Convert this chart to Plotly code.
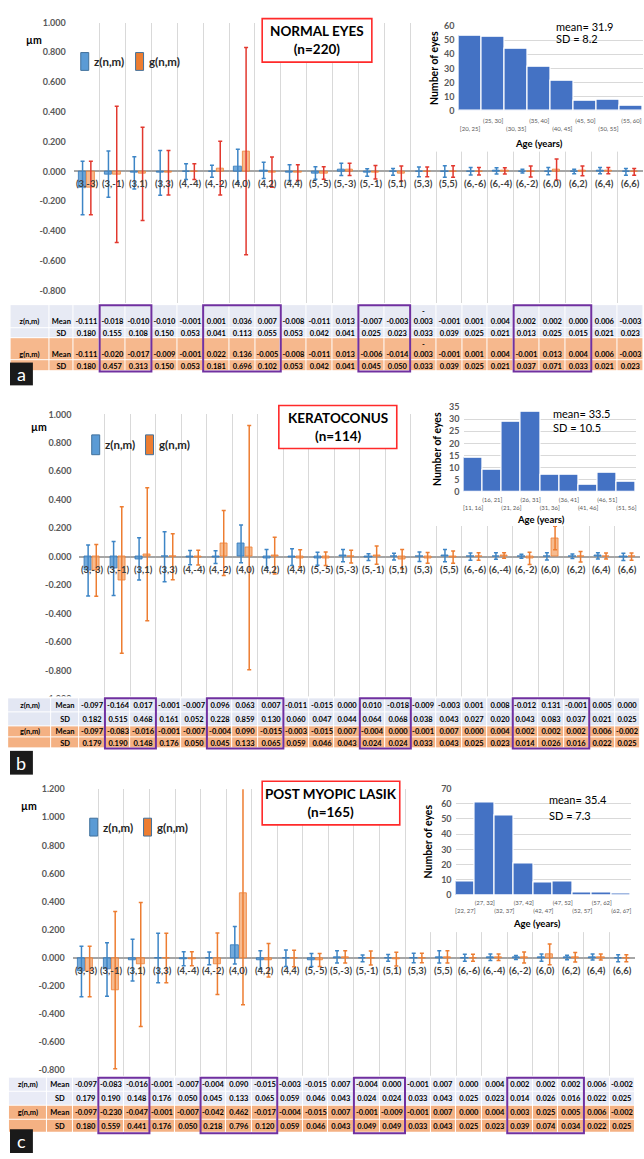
import plotly.graph_objects as go

W, H = 644, 1159
FONT = "Lato, 'Open Sans', sans-serif"


def fx(x):
    """pixel column -> paper x"""
    return x / W


def fy(y):
    """pixel row -> paper y"""
    return 1 - y / H


# ---------------------------------------------------------------- data
categories = ["(3,-3)", "(3,-1)", "(3,1)", "(3,3)", "(4,-4)", "(4,-2)", "(4,0)", "(4,2)",
              "(4,4)", "(5,-5)", "(5,-3)", "(5,-1)", "(5,1)", "(5,3)", "(5,5)", "(6,-6)",
              "(6,-4)", "(6,-2)", "(6,0)", "(6,2)", "(6,4)", "(6,6)"]

# Normal eyes (n=220)
normal_z_mean = [-0.111, -0.018, -0.010, -0.010, -0.001, 0.001, 0.036, 0.007, -0.008, -0.011, 0.013,
                 -0.007, -0.003, -0.003, -0.001, 0.001, 0.004, 0.002, 0.002, 0.000, 0.006, -0.003]
normal_z_sd = [0.180, 0.155, 0.108, 0.150, 0.053, 0.041, 0.113, 0.055, 0.053, 0.042, 0.041,
               0.025, 0.023, 0.033, 0.039, 0.025, 0.021, 0.013, 0.025, 0.015, 0.021, 0.023]
normal_g_mean = [-0.111, -0.020, -0.017, -0.009, -0.001, 0.022, 0.136, -0.005, -0.008, -0.011, 0.013,
                 -0.006, -0.014, -0.003, -0.001, 0.001, 0.004, -0.001, 0.013, 0.004, 0.006, -0.003]
normal_g_sd = [0.180, 0.457, 0.313, 0.150, 0.053, 0.181, 0.696, 0.102, 0.053, 0.042, 0.041,
               0.045, 0.050, 0.033, 0.039, 0.025, 0.021, 0.037, 0.071, 0.033, 0.021, 0.023]

# Keratoconus (n=114)
kc_z_mean = [-0.097, -0.164, 0.017, -0.001, -0.007, 0.096, 0.063, 0.007, -0.011, -0.015, 0.000,
             0.010, -0.018, -0.009, -0.003, 0.001, 0.008, -0.012, 0.131, -0.001, 0.005, 0.000]
kc_z_sd = [0.182, 0.515, 0.468, 0.161, 0.052, 0.228, 0.859, 0.130, 0.060, 0.047, 0.044,
           0.064, 0.068, 0.038, 0.043, 0.027, 0.020, 0.043, 0.083, 0.037, 0.021, 0.025]
kc_g_mean = [-0.097, -0.083, -0.016, -0.001, -0.007, -0.004, 0.090, -0.015, -0.003, -0.015, 0.007,
             -0.004, 0.000, -0.001, 0.007, 0.000, 0.004, 0.002, 0.002, 0.002, 0.006, -0.002]
kc_g_sd = [0.179, 0.190, 0.148, 0.176, 0.050, 0.045, 0.133, 0.065, 0.059, 0.046, 0.043,
           0.024, 0.024, 0.033, 0.043, 0.025, 0.023, 0.014, 0.026, 0.016, 0.022, 0.025]

# Post myopic LASIK (n=165)
lasik_z_mean = [-0.097, -0.083, -0.016, -0.001, -0.007, -0.004, 0.090, -0.015, -0.003, -0.015, 0.007,
                -0.004, 0.000, -0.001, 0.007, 0.000, 0.004, 0.002, 0.002, 0.002, 0.006, -0.002]
lasik_z_sd = [0.179, 0.190, 0.148, 0.176, 0.050, 0.045, 0.133, 0.065, 0.059, 0.046, 0.043,
              0.024, 0.024, 0.033, 0.043, 0.025, 0.023, 0.014, 0.026, 0.016, 0.022, 0.025]
lasik_g_mean = [-0.097, -0.230, -0.047, -0.001, -0.007, -0.042, 0.462, -0.017, -0.004, -0.015, 0.007,
                -0.001, -0.009, -0.001, 0.007, 0.000, 0.004, 0.003, 0.025, 0.005, 0.006, -0.002]
lasik_g_sd = [0.180, 0.559, 0.441, 0.176, 0.050, 0.218, 0.796, 0.120, 0.059, 0.046, 0.043,
              0.049, 0.049, 0.033, 0.043, 0.025, 0.023, 0.039, 0.074, 0.034, 0.022, 0.025]

# Age distributions
normal_age_bins = ["[20, 25]", "(25, 30]", "(30, 35]", "(35, 40]", "(40, 45]", "(45, 50]", "(50, 55]", "(55, 60]"]
normal_age_counts = [53, 52, 44, 31, 21, 7, 8, 4]
kc_age_bins = ["[11, 16]", "(16, 21]", "(21, 26]", "(26, 31]", "(31, 36]", "(36, 41]", "(41, 46]", "(46, 51]", "(51, 56]"]
kc_age_counts = [14, 9, 29, 33, 7, 7, 3, 8, 4]
lasik_age_bins = ["[22, 27]", "(27, 32]", "(32, 37]", "(37, 42]", "(42, 47]", "(47, 52]", "(52, 57]", "(57, 62]", "(62, 67]"]
lasik_age_counts = [9, 61, 52, 21, 8, 9, 2, 2, 1]

# Column groups boxed in the tables (indices into categories)
boxed_groups = [(1, 2), (5, 7), (11, 12), (17, 19)]

# ---------------------------------------------------------------- panel geometry
panels = [
    dict(letter="a", title=("NORMAL EYES", "(n=220)"), age_stats=("mean= 31.9", "SD = 8.2"),
         z_mean=normal_z_mean, z_sd=normal_z_sd, g_mean=normal_g_mean, g_sd=normal_g_sd,
         blue=(normal_z_mean, normal_z_sd), orange=(normal_g_mean, normal_g_sd),
         g_err="#e2382e", bins=normal_age_bins, counts=normal_age_counts, hist_max=60, hist_dtick=10,
         x0=73, x1=644, ytop=16.7, ybot=300, yrange=[-0.885, 1.0], yticks=[k / 5 for k in range(-4, 6)],
         um=(33, 34), leg=(80, 47, 65, 135), tbox=(262, 12.7, 372, 56.7),
         hist=(459, 644, 20, 106), cover=(418, 644, 0, 147), eyes_x=435, age_y=139, stats=(555, 21, 33),
         tick_standoff=5, table_L=-2.95, table_M=-1.45, rows=[302, 325, 335.5, 358, 369], wrap={13},
         tall_rows={0, 2}, table_font=7.5, lav="#e7eaf4", org="#f6b88d", letter_box=(9, 360, 32, 383)),
    dict(letter="b", title=("KERATOCONUS", "(n=114)"), age_stats=("mean= 33.5", "SD = 10.5"),
         z_mean=kc_z_mean, z_sd=kc_z_sd, g_mean=kc_g_mean, g_sd=kc_g_sd,
         # the keratoconus table rows are transposed relative to the plotted z/g series
         blue=(kc_g_mean, kc_g_sd), orange=(kc_z_mean, kc_z_sd),
         g_err="#ed7d31", bins=kc_age_bins, counts=kc_age_counts, hist_max=35, hist_dtick=5,
         x0=78.7, x1=641.2, ytop=412.3, ybot=699.5, yrange=[-1.0, 1.0], yticks=[k / 5 for k in range(-5, 6)],
         um=(38, 425), leg=(91, 433, 453, 145), tbox=(278.7, 403.3, 397, 446.7),
         hist=(464, 637, 404.7, 490.7), cover=(418, 644, 378, 525), eyes_x=438, age_y=518, stats=(552, 411, 426),
         tick_standoff=3, table_L=-3.3, table_M=-1.6, rows=[699, 713, 727, 738.5, 749.5], wrap=set(),
         tall_rows=set(), table_font=7.5, lav="#e3e7f3", org="#f4b183", letter_box=(9, 752, 32, 776)),
    dict(letter="c", title=("POST MYOPIC LASIK", "(n=165)"), age_stats=("mean= 35.4", "SD = 7.3"),
         z_mean=lasik_z_mean, z_sd=lasik_z_sd, g_mean=lasik_g_mean, g_sd=lasik_g_sd,
         blue=(lasik_z_mean, lasik_z_sd), orange=(lasik_g_mean, lasik_g_sd),
         g_err="#ed7d31", bins=lasik_age_bins, counts=lasik_age_counts, hist_max=70, hist_dtick=10,
         x0=72, x1=636, ytop=790.7, ybot=1084, yrange=[-0.867, 1.2], yticks=[k / 5 for k in range(-4, 7)],
         um=(28, 808), leg=(89, 820, 838, 143), tbox=(262, 782.7, 400, 826.7),
         hist=(456, 632, 790, 897.7), cover=(418, 644, 765, 935), eyes_x=428, age_y=926, stats=(548, 801, 817),
         tick_standoff=3, table_L=-3.0, table_M=-1.5, rows=[1082, 1096, 1110, 1124, 1138], wrap=set(),
         tall_rows=set(), table_font=7.5, lav="#e9ebf6", org="#f4b183", letter_box=(9, 1134, 32, 1158)),
]

fig = go.Figure()
layout = dict(width=W, height=H, margin=dict(l=0, r=0, t=0, b=0), paper_bgcolor="white",
              plot_bgcolor="white", showlegend=False, font=dict(family=FONT), bargap=0)
shapes, annotations = [], []


def note(x, y, text, size, color="black", xanchor="center", **kw):
    """paper-positioned text, centred vertically on the given pixel row"""
    d = dict(xref="paper", yref="paper", x=fx(x), y=fy(y), xanchor=xanchor, yanchor="middle",
             showarrow=False, text=text, font=dict(size=size, color=color, family=FONT))
    d.update(kw)
    annotations.append(d)


def ids(n):
    s = "" if n == 1 else str(n)
    return "x" + s, "y" + s, "xaxis" + s, "yaxis" + s


def fmt(v):
    return f"{v:.3f}"


n_cat = len(categories)
idx = list(range(n_cat))

for p, P in enumerate(panels):
    m, c, h, t = 3 * p + 1, 3 * p + 2, 3 * p + 3, 10 + p

    # ---------------- main chart: mean +/- SD per Zernike term
    xm, ym, xmk, ymk = ids(m)
    layout[xmk] = dict(domain=[fx(P["x0"]), fx(P["x1"])], range=[-0.5, n_cat - 0.5], anchor=ym,
                       tickvals=[i - 0.5 for i in range(n_cat + 1)], showticklabels=False, ticks="",
                       showgrid=True, gridcolor="#d9d9d9", gridwidth=1, zeroline=False, showline=False)
    layout[ymk] = dict(domain=[fy(P["ybot"]), fy(P["ytop"])], range=P["yrange"], anchor=xm,
                       tickvals=P["yticks"], ticktext=[fmt(v) for v in P["yticks"]],
                       tickfont=dict(size=9, color="#595959", family=FONT, weight="bold"),
                       ticklabelstandoff=7, showgrid=False, zeroline=True, zerolinecolor="#a6a6a6",
                       zerolinewidth=1.5, ticks="", showline=False)
    bmean, bsd = P["blue"]
    omean, osd = P["orange"]
    fig.add_trace(go.Bar(x=idx, y=bmean, width=0.28, offset=-0.3, xaxis=xm, yaxis=ym, hoverinfo="skip",
                         marker=dict(color="rgba(91,155,213,0.85)", line=dict(color="#2e75b6", width=0.8)),
                         error_y=dict(type="data", array=bsd, visible=True, color="#3d85c6",
                                      thickness=1.5, width=2)))
    fig.add_trace(go.Bar(x=idx, y=omean, width=0.28, offset=0.02, xaxis=xm, yaxis=ym, hoverinfo="skip",
                         marker=dict(color="rgba(244,170,115,0.8)", line=dict(color="#ed7d31", width=0.8)),
                         error_y=dict(type="data", array=osd, visible=True, color=P["g_err"],
                                      thickness=1.5, width=2)))
    for i, cat in enumerate(categories):
        annotations.append(dict(xref=xm, yref=ym, x=i, y=0, xanchor="center", yanchor="top", yshift=-5,
                                showarrow=False, text=f"<b>{cat}</b>",
                                font=dict(size=9.5, color="#404040", family=FONT)))

    # axis unit and legend
    note(P["um"][0], P["um"][1], "<b>µm</b>", 10.5)
    lx, ly0, ly1, lx2 = P["leg"]
    for rx, fill, label in ((lx, "#5b9bd5", "z(n,m)"), (lx2, "#ed7d31", "g(n,m)")):
        shapes.append(dict(type="rect", xref="paper", yref="paper", x0=fx(rx), x1=fx(rx + 8),
                           y0=fy(ly1), y1=fy(ly0), fillcolor=fill, line=dict(color="#41719c", width=1)))
        note(rx + 11, (ly0 + ly1) / 2, f"<b>{label}</b>", 11.5, "#262626", xanchor="left")

    # title box
    bx0, by0, bx1, by1 = P["tbox"]
    shapes.append(dict(type="rect", xref="paper", yref="paper", x0=fx(bx0), x1=fx(bx1), y0=fy(by1), y1=fy(by0),
                       fillcolor="white", line=dict(color="#ff2a2a", width=1.6), layer="above"))
    note((bx0 + bx1) / 2, (by0 + by1) / 2, f"<b>{P['title'][0]}</b><br><b>{P['title'][1]}</b>", 13.5)

    # ---------------- white backing for the age inset
    xc, yc, xck, yck = ids(c)
    cx0, cx1, cy0, cy1 = P["cover"]
    layout[xck] = dict(domain=[fx(cx0), fx(cx1)], range=[0, 1], visible=False, anchor=yc)
    layout[yck] = dict(domain=[fy(cy1), fy(cy0)], range=[0, 1], visible=False, anchor=xc)
    fig.add_trace(go.Scatter(x=[None], y=[None], xaxis=xc, yaxis=yc, hoverinfo="skip"))

    # ---------------- age histogram inset
    xh, yh, xhk, yhk = ids(h)
    hx0, hx1, hy0, hy1 = P["hist"]
    nb = len(P["bins"])
    ticktext = [b if i % 2 else "<br>" + b for i, b in enumerate(P["bins"])]
    layout[xhk] = dict(domain=[fx(hx0), fx(hx1)], range=[-0.5, nb - 0.5], anchor=yh, tickvals=list(range(nb)),
                       ticktext=ticktext, tickfont=dict(size=6, color="#595959", family=FONT), ticks="",
                       ticklabelstandoff=P["tick_standoff"], showgrid=False, zeroline=False, showline=False,
                       tickangle=0)
    layout[yhk] = dict(domain=[fy(hy1), fy(hy0)], range=[0, P["hist_max"]], dtick=P["hist_dtick"], anchor=xh,
                       tickfont=dict(size=9, color="#595959", family=FONT, weight="bold"), ticklabelstandoff=3,
                       showgrid=True, gridcolor="#d9d9d9", gridwidth=1, zeroline=False, ticks="", showline=False)
    fig.add_trace(go.Bar(x=list(range(nb)), y=P["counts"], width=1, xaxis=xh, yaxis=yh, hoverinfo="skip",
                         marker=dict(color="#4472c4", line=dict(color="white", width=1.2))))
    note(P["eyes_x"], (hy0 + hy1) / 2, "<b>Number of eyes</b>", 10.5, textangle=-90)
    note((hx0 + min(hx1, 620)) / 2, P["age_y"], "<b>Age (years)</b>", 9.5)
    sx, sy1, sy2 = P["stats"]
    for txt, sy in zip(P["age_stats"], (sy1, sy2)):
        note(sx, sy, txt, 11, xanchor="left")

    # ---------------- summary table aligned with the chart columns
    xt, yt, xtk, ytk = ids(t)
    unit = (P["x1"] - P["x0"]) / n_cat
    L, M = P["table_L"], P["table_M"]
    rows = P["rows"]
    layout[xtk] = dict(domain=[fx(P["x0"] + (L + 0.5) * unit), fx(P["x1"])], range=[L, n_cat - 0.5],
                       visible=False, anchor=yt)
    layout[ytk] = dict(domain=[fy(rows[-1] + 2), fy(rows[0] - 2)], range=[rows[-1] + 2, rows[0] - 2],
                       visible=False, anchor=xt)

    def row_text(labels, vals, wrap, tall):
        out = list(labels) + [fmt(v) for v in vals]
        for j, s in enumerate(out):
            if j - 2 in wrap and s.startswith("-"):
                out[j] = "-<br>" + s[1:]
            elif tall and s:
                # cells are bottom aligned in the taller rows
                out[j] = "<br>" + s
        return out

    tall = P["tall_rows"]
    text = [row_text(("z(n,m)", "Mean"), P["z_mean"], P["wrap"], 0 in tall),
            row_text(("", "SD"), P["z_sd"], set(), 1 in tall),
            row_text(("g(n,m)", "Mean"), P["g_mean"], P["wrap"], 2 in tall),
            row_text(("", "SD"), P["g_sd"], set(), 3 in tall)]
    xedges = [L, M] + [i - 0.5 for i in range(n_cat + 1)]
    zcol = [[0] * (n_cat + 2), [0] * (n_cat + 2), [1] * (n_cat + 2), [1] * (n_cat + 2)]
    fig.add_trace(go.Heatmap(x=xedges, y=rows, z=zcol, text=text, texttemplate="%{text}",
                             textfont=dict(size=P["table_font"], color="black", family=FONT, weight="bold"),
                             colorscale=[[0, P["lav"]], [1, P["org"]]], zmin=0, zmax=1, showscale=False,
                             xgap=1, ygap=1, hoverinfo="skip", xaxis=xt, yaxis=yt))
    for g0, g1 in boxed_groups:
        shapes.append(dict(type="rect", xref=xt, yref=yt, x0=g0 - 0.5, x1=g1 + 0.5, y0=rows[0], y1=rows[-1],
                           line=dict(color="#7030a0", width=2), fillcolor="rgba(0,0,0,0)", layer="above"))

    # panel letter
    lb = P["letter_box"]
    shapes.append(dict(type="rect", xref="paper", yref="paper", x0=fx(lb[0]), x1=fx(lb[2]), y0=fy(lb[3]),
                       y1=fy(lb[1]), fillcolor="#1a1a1a", line=dict(width=0), layer="above"))
    note((lb[0] + lb[2]) / 2, (lb[1] + lb[3]) / 2, P["letter"], 18, "white")

layout["shapes"] = shapes
layout["annotations"] = annotations
fig.update_layout(**layout)
fig.write_html("out.html")
